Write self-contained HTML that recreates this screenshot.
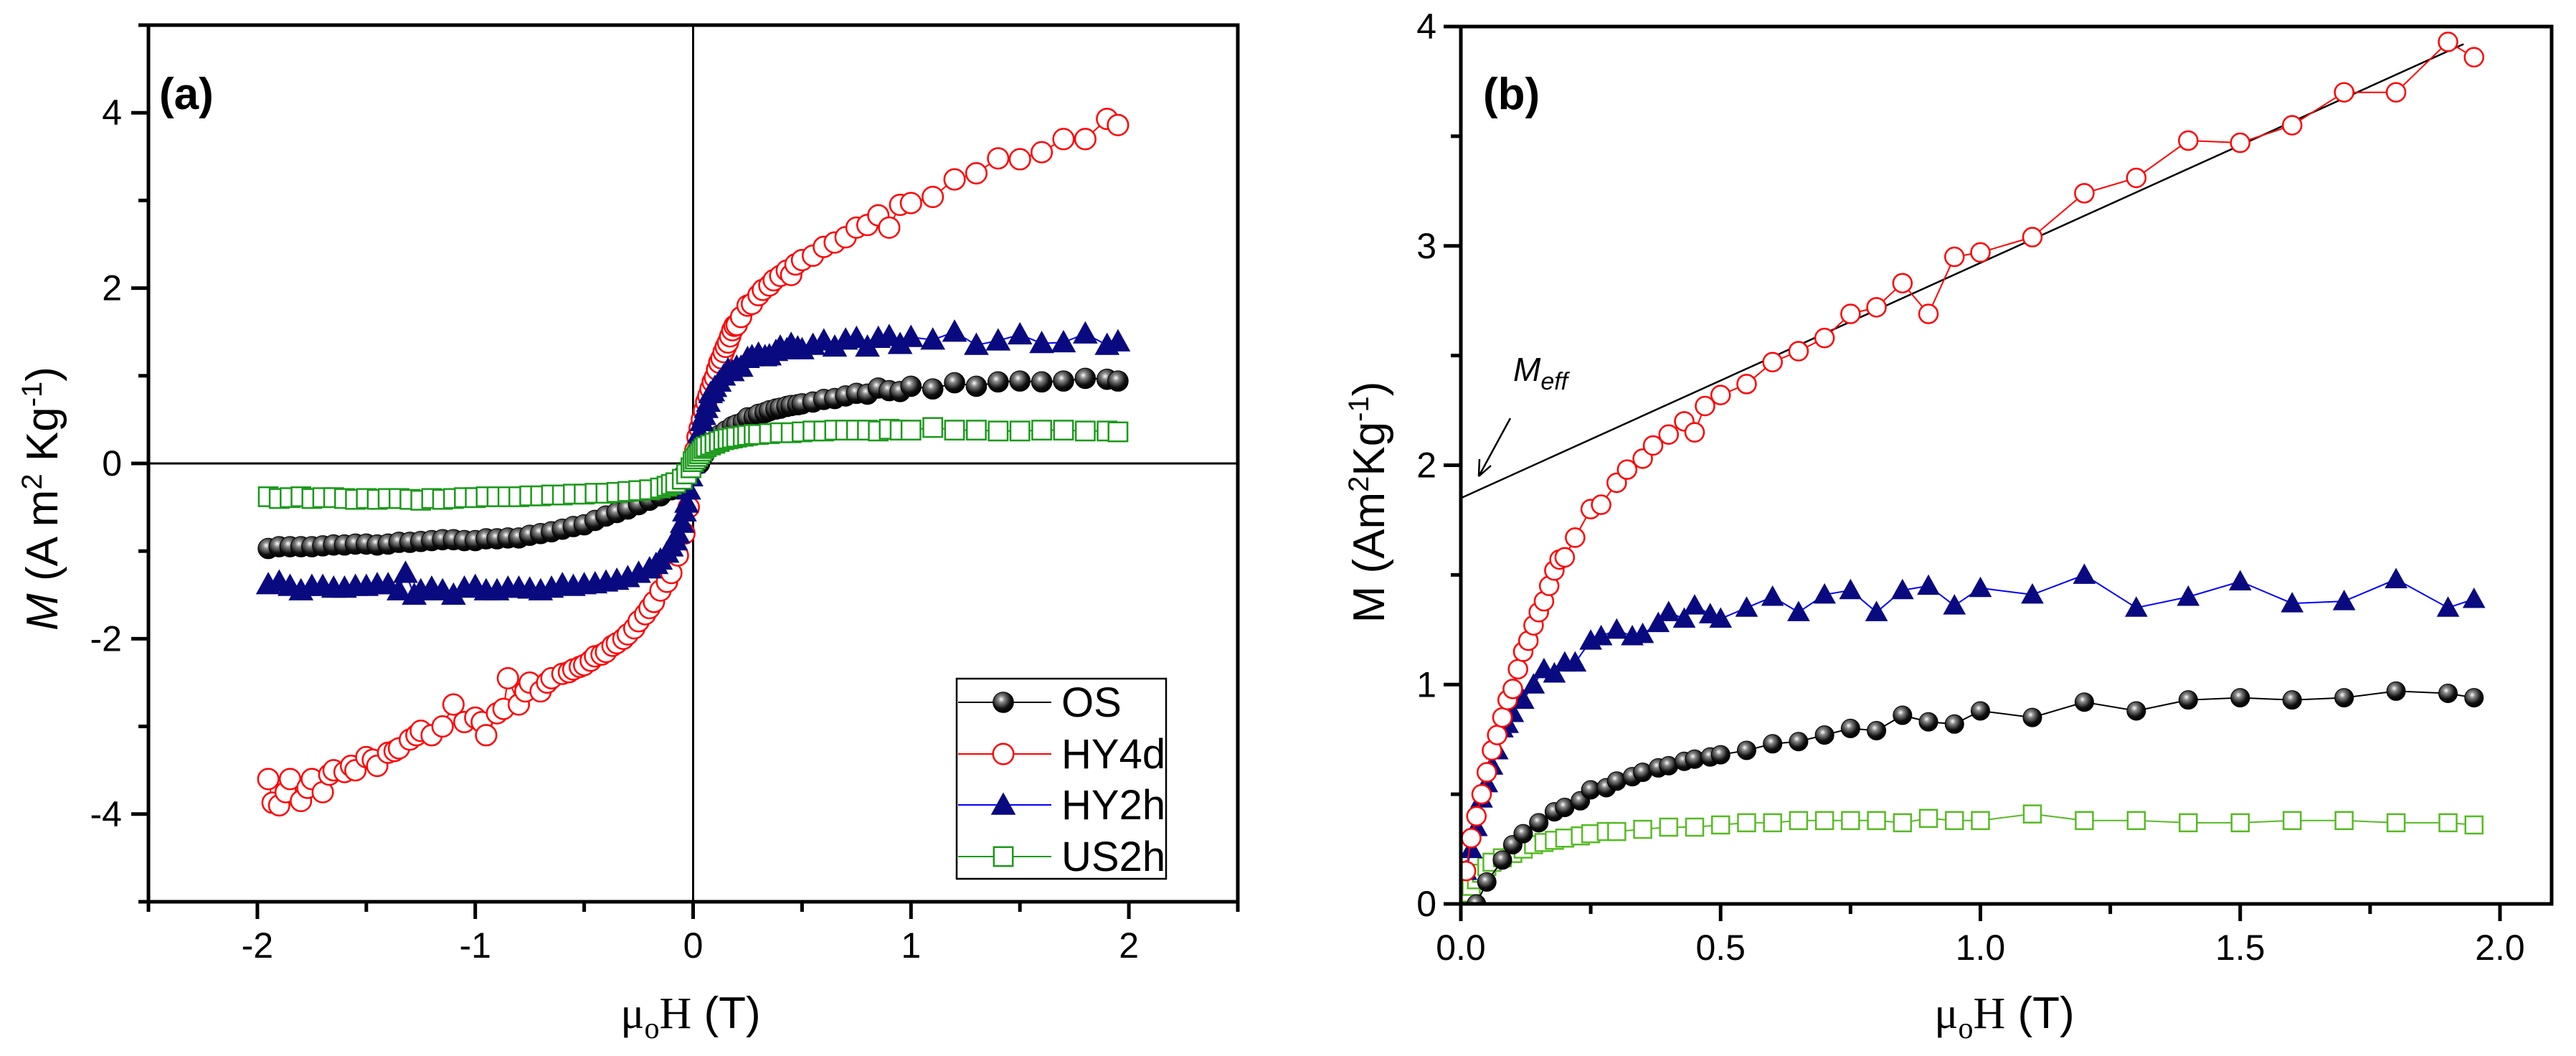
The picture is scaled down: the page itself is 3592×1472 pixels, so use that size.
<!DOCTYPE html>
<html><head><meta charset="utf-8"><style>
html,body{margin:0;padding:0;background:#fff;}
svg{display:block;font-family:"Liberation Sans",Arial,sans-serif;}
</style></head><body>
<svg id="fig" width="3592" height="1472" viewBox="0 0 3592 1472" xmlns="http://www.w3.org/2000/svg">
<defs>
<radialGradient id="sph" cx="0.4" cy="0.35" r="0.65"><stop offset="0" stop-color="#ffffff"/><stop offset="0.25" stop-color="#888"/><stop offset="0.7" stop-color="#111"/><stop offset="1" stop-color="#000"/></radialGradient>
</defs>
<g id="pa"></g>
<g id="pb"></g>
</svg>
<script>
// ---------- Panel (a) data (negative branch + near-zero) ----------
const aHY4dX = [-1.95,-1.93,-1.9,-1.87,-1.85,-1.8,-1.77,-1.75,-1.7,-1.67,-1.65,-1.6,-1.57,-1.55,-1.5,-1.47,-1.45,-1.4,-1.37,-1.35,-1.3,-1.27,-1.25,-1.2,-1.15,-1.1,-1.05,-1.0,-0.97,-0.95,-0.9,-0.87,-0.85,-0.8,-0.77,-0.75,-0.7,-0.67,-0.65,-0.6,-0.57,-0.55,-0.52,-0.5,-0.47,-0.45,-0.42,-0.4,-0.37,-0.35,-0.32,-0.3,-0.27,-0.25,-0.22,-0.2,-0.18,-0.15,-0.12,-0.1,-0.07,-0.04,-0.02,0];
const aHY4dY = [-3.6,-3.87,-3.9,-3.75,-3.6,-3.85,-3.7,-3.6,-3.75,-3.55,-3.5,-3.52,-3.45,-3.5,-3.35,-3.38,-3.45,-3.3,-3.28,-3.25,-3.15,-3.1,-3.05,-3.1,-3.0,-2.75,-2.95,-2.9,-2.95,-3.1,-2.85,-2.8,-2.45,-2.75,-2.6,-2.5,-2.6,-2.5,-2.45,-2.4,-2.38,-2.35,-2.32,-2.3,-2.25,-2.2,-2.18,-2.15,-2.08,-2.05,-2.0,-1.95,-1.88,-1.8,-1.72,-1.65,-1.58,-1.45,-1.35,-1.25,-1.05,-0.8,-0.5,0];
const aHY2hX = [-1.95,-1.9,-1.85,-1.8,-1.75,-1.7,-1.65,-1.6,-1.55,-1.5,-1.45,-1.4,-1.35,-1.32,-1.28,-1.25,-1.2,-1.15,-1.1,-1.05,-1.0,-0.95,-0.9,-0.85,-0.8,-0.75,-0.7,-0.65,-0.6,-0.55,-0.5,-0.45,-0.4,-0.35,-0.3,-0.25,-0.2,-0.17,-0.15,-0.12,-0.1,-0.08,-0.07,-0.05,-0.04,-0.03,-0.02,-0.01,0];
const aHY2hY = [-1.38,-1.35,-1.4,-1.45,-1.4,-1.4,-1.42,-1.42,-1.4,-1.4,-1.38,-1.38,-1.45,-1.25,-1.5,-1.45,-1.42,-1.45,-1.5,-1.42,-1.4,-1.45,-1.45,-1.42,-1.42,-1.43,-1.45,-1.42,-1.38,-1.4,-1.38,-1.37,-1.35,-1.33,-1.3,-1.25,-1.2,-1.15,-1.1,-1.02,-0.95,-0.88,-0.8,-0.68,-0.55,-0.45,-0.3,-0.15,0];
const aOSX = [-1.95,-1.9,-1.85,-1.8,-1.75,-1.7,-1.65,-1.6,-1.55,-1.5,-1.45,-1.4,-1.35,-1.3,-1.25,-1.2,-1.15,-1.1,-1.05,-1.0,-0.95,-0.9,-0.85,-0.8,-0.75,-0.7,-0.65,-0.6,-0.55,-0.5,-0.45,-0.4,-0.35,-0.3,-0.25,-0.2,-0.15,-0.1,-0.07,-0.05,-0.02,0];
const aOSY = [-0.97,-0.95,-0.95,-0.95,-0.95,-0.94,-0.93,-0.93,-0.92,-0.92,-0.93,-0.92,-0.9,-0.9,-0.89,-0.88,-0.87,-0.87,-0.88,-0.88,-0.86,-0.86,-0.85,-0.85,-0.82,-0.8,-0.78,-0.75,-0.72,-0.7,-0.65,-0.6,-0.56,-0.52,-0.47,-0.42,-0.37,-0.3,-0.22,-0.15,-0.07,0];
const aUSX = [-1.95,-1.9,-1.85,-1.8,-1.75,-1.7,-1.65,-1.6,-1.55,-1.5,-1.45,-1.4,-1.35,-1.3,-1.25,-1.2,-1.15,-1.1,-1.05,-1.0,-0.95,-0.9,-0.85,-0.8,-0.75,-0.7,-0.65,-0.6,-0.55,-0.5,-0.45,-0.4,-0.35,-0.3,-0.25,-0.2,-0.15,-0.12,-0.1,-0.08,-0.05,-0.03,-0.01];
const aUSY = [-0.38,-0.4,-0.39,-0.38,-0.4,-0.39,-0.39,-0.4,-0.41,-0.4,-0.41,-0.4,-0.4,-0.41,-0.42,-0.4,-0.41,-0.4,-0.39,-0.39,-0.38,-0.38,-0.38,-0.38,-0.37,-0.37,-0.36,-0.36,-0.35,-0.35,-0.34,-0.34,-0.33,-0.32,-0.31,-0.3,-0.28,-0.26,-0.24,-0.22,-0.18,-0.12,-0.05];
const aXTicks = [-2,-1,0,1,2];
const aYTicks = [-4,-2,0,2,4];
// ---------- Panel (b) data (also positive branch of panel a) ----------
const bHY4dX = [0.01,0.02,0.03,0.04,0.05,0.06,0.07,0.08,0.09,0.1,0.11,0.12,0.13,0.14,0.15,0.16,0.17,0.18,0.19,0.2,0.22,0.25,0.27,0.3,0.32,0.35,0.37,0.4,0.43,0.45,0.47,0.5,0.55,0.6,0.65,0.7,0.75,0.8,0.85,0.9,0.95,1.0,1.1,1.2,1.3,1.4,1.5,1.6,1.7,1.8,1.9,1.95];
const bHY4dY = [0.15,0.3,0.4,0.5,0.6,0.7,0.77,0.85,0.93,0.98,1.07,1.15,1.2,1.27,1.33,1.38,1.45,1.52,1.57,1.58,1.67,1.8,1.82,1.92,1.98,2.03,2.09,2.14,2.2,2.15,2.27,2.32,2.37,2.47,2.52,2.58,2.69,2.72,2.83,2.69,2.95,2.97,3.04,3.24,3.31,3.48,3.47,3.55,3.7,3.7,3.93,3.86];
const bHY2hX = [0.01,0.02,0.03,0.04,0.05,0.06,0.07,0.08,0.09,0.1,0.12,0.14,0.16,0.18,0.2,0.22,0.25,0.27,0.3,0.33,0.35,0.38,0.4,0.43,0.45,0.48,0.5,0.55,0.6,0.65,0.7,0.75,0.8,0.85,0.9,0.95,1.0,1.1,1.2,1.3,1.4,1.5,1.6,1.7,1.8,1.9,1.95];
const bHY2hY = [0.15,0.25,0.35,0.48,0.55,0.63,0.7,0.8,0.82,0.87,0.93,1.0,1.07,1.05,1.1,1.1,1.2,1.22,1.25,1.22,1.23,1.28,1.33,1.3,1.36,1.32,1.3,1.35,1.4,1.33,1.41,1.43,1.33,1.43,1.45,1.36,1.44,1.41,1.5,1.35,1.4,1.47,1.37,1.38,1.48,1.35,1.39];
const bOSX = [0.03,0.05,0.08,0.1,0.12,0.15,0.18,0.2,0.23,0.25,0.28,0.3,0.33,0.35,0.38,0.4,0.43,0.45,0.48,0.5,0.55,0.6,0.65,0.7,0.75,0.8,0.85,0.9,0.95,1.0,1.1,1.2,1.3,1.4,1.5,1.6,1.7,1.8,1.9,1.95];
const bOSY = [0,0.1,0.2,0.27,0.32,0.37,0.42,0.44,0.47,0.52,0.53,0.56,0.58,0.6,0.62,0.63,0.65,0.66,0.67,0.68,0.7,0.73,0.74,0.77,0.8,0.79,0.86,0.83,0.82,0.88,0.85,0.92,0.88,0.93,0.94,0.93,0.94,0.97,0.96,0.94];
const bUSX = [0,0.01,0.02,0.03,0.04,0.05,0.06,0.08,0.1,0.12,0.14,0.16,0.18,0.2,0.23,0.25,0.28,0.3,0.35,0.4,0.45,0.5,0.55,0.6,0.65,0.7,0.75,0.8,0.85,0.9,0.95,1.0,1.1,1.2,1.3,1.4,1.5,1.6,1.7,1.8,1.9,1.95];
const bUSY = [0.02,0.05,0.08,0.11,0.14,0.17,0.19,0.21,0.23,0.25,0.27,0.28,0.29,0.3,0.31,0.32,0.33,0.33,0.34,0.35,0.35,0.36,0.37,0.37,0.38,0.38,0.38,0.38,0.37,0.39,0.38,0.38,0.41,0.38,0.38,0.37,0.37,0.38,0.38,0.37,0.37,0.36];
const bFit = [[0,1.85],[1.93,3.92]];
const bXTicks = [0,0.5,1.0,1.5,2.0];
const bYTicks = [0,1,2,3,4];

const NS='http://www.w3.org/2000/svg';
function mk(p,tag,attrs){const e=document.createElementNS(NS,tag);for(const k in attrs)e.setAttribute(k,attrs[k]);p.appendChild(e);return e;}

function marker(g,type,cx,cy,col,s){
  let e;
  if(type==='circle'){e=mk(g,'circle',{cx:cx,cy:cy,r:13*s,fill:'#fff',stroke:col,'stroke-width':2.5});}
  else if(type==='sphere'){e=mk(g,'circle',{cx:cx,cy:cy,r:13*s,fill:'url(#sph)',stroke:'#000','stroke-width':1});}
  else if(type==='tri'){e=mk(g,'polygon',{points:(cx-15*s)+','+(cy+12*s)+' '+(cx+15*s)+','+(cy+12*s)+' '+cx+','+(cy-15*s),fill:'#0a0a80',stroke:'#0a0a80','stroke-width':1});}
  else {e=mk(g,'rect',{x:cx-12*s,y:cy-12*s,width:24*s,height:24*s,fill:'#fff',stroke:col,'stroke-width':2.5});}
  
  
}

function series(g,xs,ys,X,Y,type,col,lineCol,name,s){
  const sg=mk(g,'g',{});
  
  
  let d='';xs.forEach((x,i)=>{d+=(i?'L':'M')+X(x).toFixed(1)+' '+Y(ys[i]).toFixed(1);});
  const l=mk(sg,'path',{d:d,fill:'none',stroke:lineCol,'stroke-width':2});
  
  
  xs.forEach((x,i)=>marker(sg,type,X(x),Y(ys[i]),col,s));
}

// ---------- Panel a ----------
(function(){
  const g=document.getElementById('pa');
  const L=207,R=1726,T=35,B=1257;
  const X=v=>L+(v+2.5)*(R-L)/5, Y=v=>T+(5-v)*(B-T)/10;
  const clip=mk(g,'clipPath',{id:'ca'});mk(clip,'rect',{x:L,y:T,width:R-L,height:B-T});
  const zx=mk(g,'line',{x1:X(0),x2:X(0),y1:T,y2:B,stroke:'#000','stroke-width':3});
  
  const zy=mk(g,'line',{x1:L,x2:R,y1:Y(0),y2:Y(0),stroke:'#000','stroke-width':3});
  
  const dg=mk(g,'g',{'clip-path':'url(#ca)'});
  const s=1.1;
  series(dg,aOSX.concat(bOSX),aOSY.concat(bOSY),X,Y,'sphere','#000','#000','series-os',s);
  series(dg,aHY4dX.concat(bHY4dX),aHY4dY.concat(bHY4dY),X,Y,'circle','#ff0000','#ff0000','series-hy4d',s);
  series(dg,aHY2hX.concat(bHY2hX),aHY2hY.concat(bHY2hY),X,Y,'tri','#0a0a80','#0000ff','series-hy2h',s);
  series(dg,aUSX.concat(bUSX),aUSY.concat(bUSY),X,Y,'square','#1a9a1a','#1a9a1a','series-us2h',s);
  const fr=mk(g,'rect',{x:L,y:T,width:R-L,height:B-T,fill:'none',stroke:'#000','stroke-width':5});
  
  for(let v=-2.5;v<=2.5001;v+=0.5){const maj=Math.abs(v-Math.round(v))<1e-6;mk(g,'line',{x1:X(v),x2:X(v),y1:B,y2:B+(maj?24:14),stroke:'#000','stroke-width':5});}
  for(let v=-5;v<=5;v+=1){const maj=v%2===0;mk(g,'line',{x1:L,x2:L-(maj?24:14),y1:Y(v),y2:Y(v),stroke:'#000','stroke-width':5});}
  aXTicks.forEach(v=>{const t=mk(g,'text',{x:X(v),y:1335,'font-size':50,'text-anchor':'middle'});t.textContent=v;
    });
  aYTicks.forEach(v=>{const t=mk(g,'text',{x:170,y:Y(v)+17,'font-size':50,'text-anchor':'end'});t.textContent=v;
    });
  // legend
  const lg=mk(g,'g',{});
  mk(lg,'rect',{x:1334,y:946,width:292,height:279,fill:'#fff',stroke:'#000','stroke-width':2.5});
  const ents=[['OS','sphere','#000','#000',979],['HY4d','circle','#ff0000','#ff0000',1051],['HY2h','tri','#0a0a80','#0000ff',1122],['US2h','square','#1a9a1a','#1a9a1a',1194]];
  ents.forEach(e=>{const eg=mk(lg,'g',{});
    mk(eg,'line',{x1:1336,x2:1466,y1:e[4],y2:e[4],stroke:e[3],'stroke-width':2});
    marker(eg,e[1],1399,e[4],e[2],1.1);
    const t=mk(eg,'text',{x:1480,y:e[4]+20,'font-size':58});t.textContent=e[0];});
})();

// ---------- Panel b ----------
(function(){
  const g=document.getElementById('pb');
  const L=2037,R=3558,T=37,B=1260;
  const X=v=>L+v*724.5, Y=v=>B-v*(B-T)/4;
  const clip=mk(g,'clipPath',{id:'cb'});mk(clip,'rect',{x:L,y:T,width:R-L,height:B-T});
  const dg=mk(g,'g',{'clip-path':'url(#cb)'});
  const fit=mk(dg,'line',{x1:X(bFit[0][0]),y1:Y(bFit[0][1]),x2:X(bFit[1][0]),y2:Y(bFit[1][1]),stroke:'#000','stroke-width':2.5});
  
  series(dg,bUSX,bUSY,X,Y,'square','#55bb22','#55bb22','series-us2h',1);
  series(dg,bOSX,bOSY,X,Y,'sphere','#000','#000','series-os',1);
  series(dg,bHY2hX,bHY2hY,X,Y,'tri','#0a0a80','#0000ff','series-hy2h',1);
  series(dg,bHY4dX,bHY4dY,X,Y,'circle','#ff0000','#ff0000','series-hy4d',1);
  const fr=mk(g,'rect',{x:L,y:T,width:R-L,height:B-T,fill:'none',stroke:'#000','stroke-width':5});
  
  for(let v=0;v<=2.1;v+=0.25){const maj=Math.abs(v*2-Math.round(v*2))<1e-6;mk(g,'line',{x1:X(v),x2:X(v),y1:B,y2:B+(maj?24:14),stroke:'#000','stroke-width':5});}
  for(let v=0;v<=4.001;v+=0.5){const maj=Math.abs(v-Math.round(v))<1e-6;mk(g,'line',{x1:L,x2:L-(maj?24:14),y1:Y(v),y2:Y(v),stroke:'#000','stroke-width':5});}
  bXTicks.forEach(v=>{const t=mk(g,'text',{x:X(v),y:1338,'font-size':50,'text-anchor':'middle'});t.textContent=v.toFixed(1);
    });
  bYTicks.forEach(v=>{const t=mk(g,'text',{x:2003,y:Y(v)+17,'font-size':50,'text-anchor':'end'});t.textContent=v;
    });
  const ar=mk(g,'path',{d:'M2106 583 L2062 664 M2062 664 L2063 640 M2062 664 L2079 649',stroke:'#000','stroke-width':2.5,fill:'none'});
  
})();
</script>
<svg style="position:absolute;left:0;top:0" width="3592" height="1472" xmlns="http://www.w3.org/2000/svg" font-family="Liberation Sans, Arial, sans-serif">
<text x="222" y="152" font-size="62" font-weight="bold">(a)</text>
<text x="2068" y="152" font-size="62" font-weight="bold">(b)</text>
<text x="2110" y="531" font-size="46" font-style="italic">M<tspan font-size="34" dy="12">eff</tspan></text>
<text x="963" y="1433" font-size="62" text-anchor="middle"><tspan font-family="Liberation Serif, serif">μ</tspan><tspan font-family="Liberation Serif, serif" font-size="42" dy="14">o</tspan><tspan font-family="Liberation Serif, serif" dy="-14">H</tspan> (T)</text>
<text x="2795" y="1433" font-size="62" text-anchor="middle"><tspan font-family="Liberation Serif, serif">μ</tspan><tspan font-family="Liberation Serif, serif" font-size="42" dy="14">o</tspan><tspan font-family="Liberation Serif, serif" dy="-14">H</tspan> (T)</text>
<text transform="translate(80,695) rotate(-90)" font-size="62" text-anchor="middle"><tspan font-style="italic">M</tspan> (A m<tspan font-size="40" dy="-22">2</tspan><tspan dy="22"> Kg</tspan><tspan font-size="40" dy="-22">-1</tspan><tspan dy="22">)</tspan></text>
<text transform="translate(1930,700) rotate(-90)" font-size="62" text-anchor="middle">M (Am<tspan font-size="40" dy="-22">2</tspan><tspan dy="22">Kg</tspan><tspan font-size="40" dy="-22">-1</tspan><tspan dy="22">)</tspan></text>
</svg>
</body></html>
